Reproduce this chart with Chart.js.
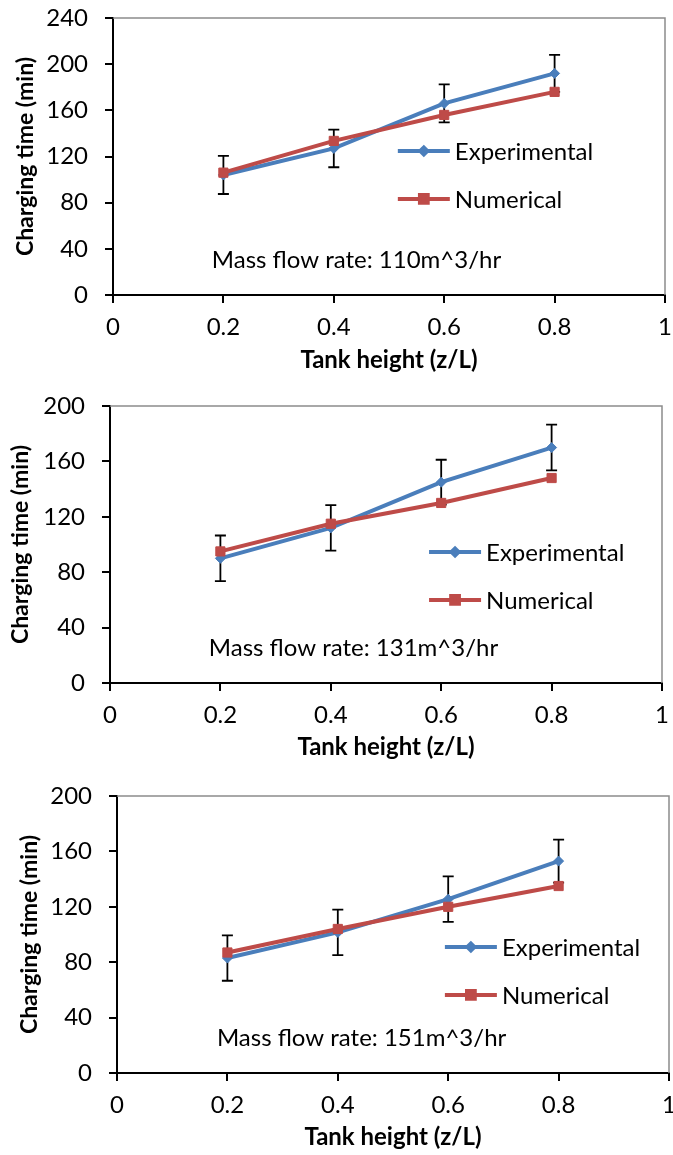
<!DOCTYPE html>
<html lang="en">
<head>
<meta charset="UTF-8">
<title>Charging time vs tank height</title>
<script src="https://cdn.jsdelivr.net/npm/chart.js"></script>
<style>
    body {
        margin: 0;
        background: #ffffff;
    }
    .wrap {
        position: relative;
        width: 673px;
        height: 1155px;
        overflow: hidden;
    }
    canvas {
        position: absolute;
        left: 0;
    }
</style>
</head>
<body>
<div class="wrap">
    <canvas id="c110" width="673" height="385" style="top:0px"></canvas>
    <canvas id="c131" width="673" height="385" style="top:390px"></canvas>
    <canvas id="c151" width="673" height="375" style="top:780px"></canvas>
</div>

<script>
    // z/L positions
    const heights = [0.2, 0.4, 0.6, 0.8];
    const seriesNames = ['Experimental', 'Numerical'];

    // 110 m^3/hr
    const exp110 = [104, 127, 166, 192];
    const num110 = [106, 133.5, 156, 176];
    const err110 = [16.5, 16.3, 16.5, 16];

    // 131 m^3/hr
    const exp131 = [90, 112, 145, 170];
    const num131 = [95, 115, 130, 148];
    const err131 = [16.5, 16.4, 16.2, 16.5];

    // 151 m^3/hr
    const exp151 = [83, 101.5, 125.5, 153];
    const num151 = [87, 104, 120, 135];
    const err151 = [16.4, 16.4, 16.4, 15.5];

    const yMax110 = 240;
    const yMax131 = 200;
    const yMax151 = 200;

    const notes = ['Mass flow rate: 110m^3/hr', 'Mass flow rate: 131m^3/hr', 'Mass flow rate: 151m^3/hr'];

    const FONT = 'Lato, "Open Sans", sans-serif';
    const BLUE = '#4a7ebb';
    const RED = '#be4b48';

    const errorBars = {
        id: 'errorBars',
        beforeDatasetsDraw(chart, args, opts) {
            const {ctx, scales: {x, y}, chartArea: a} = chart;
            ctx.save();
            // plot area frame (top + right in grey)
            ctx.strokeStyle = '#8c8c8c';
            ctx.lineWidth = 1.5;
            ctx.beginPath();
            ctx.moveTo(a.left, a.top);
            ctx.lineTo(a.right, a.top);
            ctx.lineTo(a.right, a.bottom);
            ctx.stroke();

            ctx.strokeStyle = '#000';
            ctx.lineWidth = 1.8;
            const exp = chart.data.datasets.find(d => d.label === seriesNames[0]);
            opts.errors.forEach((e, i) => {
                const pt = exp.data[i];
                const px = x.getPixelForValue(pt.x);
                const top = y.getPixelForValue(pt.y + e);
                const bot = y.getPixelForValue(pt.y - e);
                ctx.beginPath();
                ctx.moveTo(px, top);
                ctx.lineTo(px, bot);
                ctx.moveTo(px - 5.5, top);
                ctx.lineTo(px + 5.5, top);
                ctx.moveTo(px - 5.5, bot);
                ctx.lineTo(px + 5.5, bot);
                ctx.stroke();
            });
            ctx.restore();
        }
    };

    const innerLegend = {
        id: 'innerLegend',
        afterDraw(chart, args, opts) {
            const {ctx, chartArea: a} = chart;
            ctx.save();
            ctx.font = '24px ' + FONT;
            ctx.textBaseline = 'middle';
            ctx.textAlign = 'left';
            const lx = a.left + opts.lx * (a.right - a.left);
            seriesNames.forEach((name, i) => {
                const ds = chart.data.datasets.find(d => d.label === name);
                const ly = a.top + opts.ly[i] * (a.bottom - a.top);
                ctx.strokeStyle = ds.borderColor;
                ctx.lineWidth = 4;
                ctx.beginPath();
                ctx.moveTo(lx, ly);
                ctx.lineTo(lx + 52, ly);
                ctx.stroke();
                ctx.fillStyle = ds.borderColor;
                Chart.helpers.drawPoint(ctx, {
                    pointStyle: ds.pointStyle,
                    radius: opts.markers[i],
                    rotation: 0,
                    borderWidth: 1
                }, lx + 26, ly);
                ctx.fillStyle = '#000';
                ctx.fillText(name, lx + 57, ly + 1);
            });
            const nx = a.left + opts.nx * (a.right - a.left);
            const ny = a.top + opts.ny * (a.bottom - a.top);
            ctx.fillText(opts.note, nx, ny);
            ctx.restore();
        }
    };

    function makeChart(id, expVals, numVals, errs, yMax, note, lay) {
        const ctx = document.getElementById(id).getContext('2d');
        return new Chart(ctx, {
            type: 'line',
            data: {
                datasets: [{
                    label: seriesNames[1],
                    data: heights.map((h, i) => ({x: h, y: numVals[i]})),
                    borderColor: RED,
                    backgroundColor: RED,
                    borderWidth: 4,
                    pointStyle: 'rect',
                    pointRadius: 6.5,
                    pointBorderWidth: 1,
                    tension: 0
                }, {
                    label: seriesNames[0],
                    data: heights.map((h, i) => ({x: h, y: expVals[i]})),
                    borderColor: BLUE,
                    backgroundColor: BLUE,
                    borderWidth: 4,
                    pointStyle: 'rectRot',
                    pointRadius: 5,
                    pointBorderWidth: 1,
                    tension: 0
                }]
            },
            options: {
                responsive: false,
                animation: false,
                layout: {
                    autoPadding: false,
                    padding: {top: lay.top, right: lay.right, bottom: 0, left: 0}
                },
                plugins: {
                    legend: {display: false},
                    tooltip: {enabled: false},
                    errorBars: {errors: errs},
                    innerLegend: {lx: lay.lx, ly: lay.ly, nx: lay.nx, ny: lay.ny, note: note, markers: [3.5, 5.5]}
                },
                scales: {
                    x: {
                        type: 'linear',
                        min: 0,
                        max: 1,
                        afterFit(s) {
                            s.height = lay.xh;
                            s.paddingLeft = 0;
                            s.paddingRight = 0;
                        },
                        ticks: {
                            stepSize: 0.2,
                            color: '#000',
                            padding: 10,
                            font: {family: FONT, size: 24},
                            callback: v => String(Math.round(v * 10) / 10)
                        },
                        grid: {
                            drawOnChartArea: false,
                            drawTicks: true,
                            tickLength: 8,
                            color: '#000',
                            lineWidth: 2
                        },
                        border: {color: '#000', width: 2},
                        title: {
                            display: true,
                            text: 'Tank height (z/L)',
                            color: '#000',
                            padding: {top: 0, bottom: lay.tb},
                            font: {family: FONT, size: 24, weight: 'bold'}
                        }
                    },
                    y: {
                        min: 0,
                        max: yMax,
                        afterFit(s) {
                            s.width = lay.left;
                            s.paddingTop = 0;
                            s.paddingBottom = 0;
                        },
                        ticks: {
                            stepSize: 40,
                            color: '#000',
                            padding: 17,
                            font: {family: FONT, size: 24}
                        },
                        grid: {
                            drawOnChartArea: false,
                            drawTicks: true,
                            tickLength: 8,
                            color: '#000',
                            lineWidth: 2
                        },
                        border: {color: '#000', width: 2},
                        title: {
                            display: true,
                            text: 'Charging time (min)',
                            color: '#000',
                            padding: {top: lay.tl, bottom: 0},
                            font: {family: FONT, size: 23, weight: 'bold'}
                        }
                    }
                }
            },
            plugins: [errorBars, innerLegend]
        });
    }

    makeChart('c110', exp110, num110, err110, yMax110, notes[0],
        {top: 18, right: 8, left: 113, xh: 90, tb: 10, tl: 12, lx: 0.516, ly: [0.48, 0.653], nx: 0.179, ny: 0.874});
    makeChart('c131', exp131, num131, err131, yMax131, notes[1],
        {top: 16, right: 11, left: 110, xh: 92, tb: 13, tl: 7, lx: 0.578, ly: [0.527, 0.70], nx: 0.179, ny: 0.874});
    makeChart('c151', exp151, num151, err151, yMax151, notes[2],
        {top: 16, right: 4, left: 117, xh: 82, tb: 3, tl: 16, lx: 0.594, ly: [0.545, 0.718], nx: 0.181, ny: 0.874});
</script>
</body>
</html>
